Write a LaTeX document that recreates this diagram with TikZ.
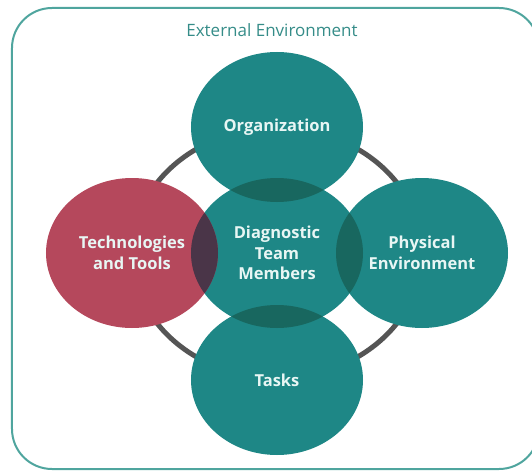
\documentclass[tikz,border=0pt]{standalone}
\usepackage{fontspec}
\setmainfont{Open Sans}
\usepackage{xcolor}
\usepackage{tikz}
\usetikzlibrary{shapes.geometric}
\usetikzlibrary{positioning}
\definecolor{tealfill}{HTML}{1E8786}
\definecolor{teallens}{HTML}{18675F}
\definecolor{redfill}{HTML}{B5485C}
\definecolor{redlens}{HTML}{4A3548}
\definecolor{blobtext}{HTML}{E8F6F4}
\definecolor{titlecol}{HTML}{358C88}
\definecolor{framecol}{HTML}{4FA59E}
\definecolor{ringcol}{HTML}{555555}

\begin{document}
\begin{tikzpicture}[node distance=145pt, semithick]
  \tikzstyle{blob}=[ellipse, fill=tealfill, text=blobtext, minimum width=172pt, minimum height=150pt, inner sep=0pt, align=center, font=\bfseries\fontsize{16.5}{20.5}\selectfont]
  \useasboundingbox (-277pt,-218pt) rectangle (255pt,253pt);
  \draw[rounded corners=40pt, line width=2pt, draw=framecol] (-265pt,-216pt) rectangle (262pt,245pt);
  \node[text=titlecol, font=\fontsize{17}{19}\selectfont] (ext) at (-5pt,223pt) {External Environment};
  \draw[line width=5pt, ringcol] (0,0) ellipse [x radius=145pt, y radius=125pt];

  \node[blob] (dtm) at (0,0) {Diagnostic\\Team\\Members};
  \node[blob, fill=redfill] (tech) [left of=dtm] {Technologies\\and Tools};
  \node[blob] (phys) [right of=dtm] {Physical\\Environment};
  \node[blob, node distance=126pt] (org) [above of=dtm] {Organization};
  \node[blob, node distance=127pt] (task) [below of=dtm] {Tasks};

  \foreach \n/\c in {tech/redlens, phys/teallens, org/teallens, task/teallens} {
    \begin{scope}
      \clip (dtm.center) ellipse [x radius=86pt, y radius=75pt];
      \fill[\c] (\n.center) ellipse [x radius=86pt, y radius=75pt];
    \end{scope}
  }
\end{tikzpicture}
\end{document}
